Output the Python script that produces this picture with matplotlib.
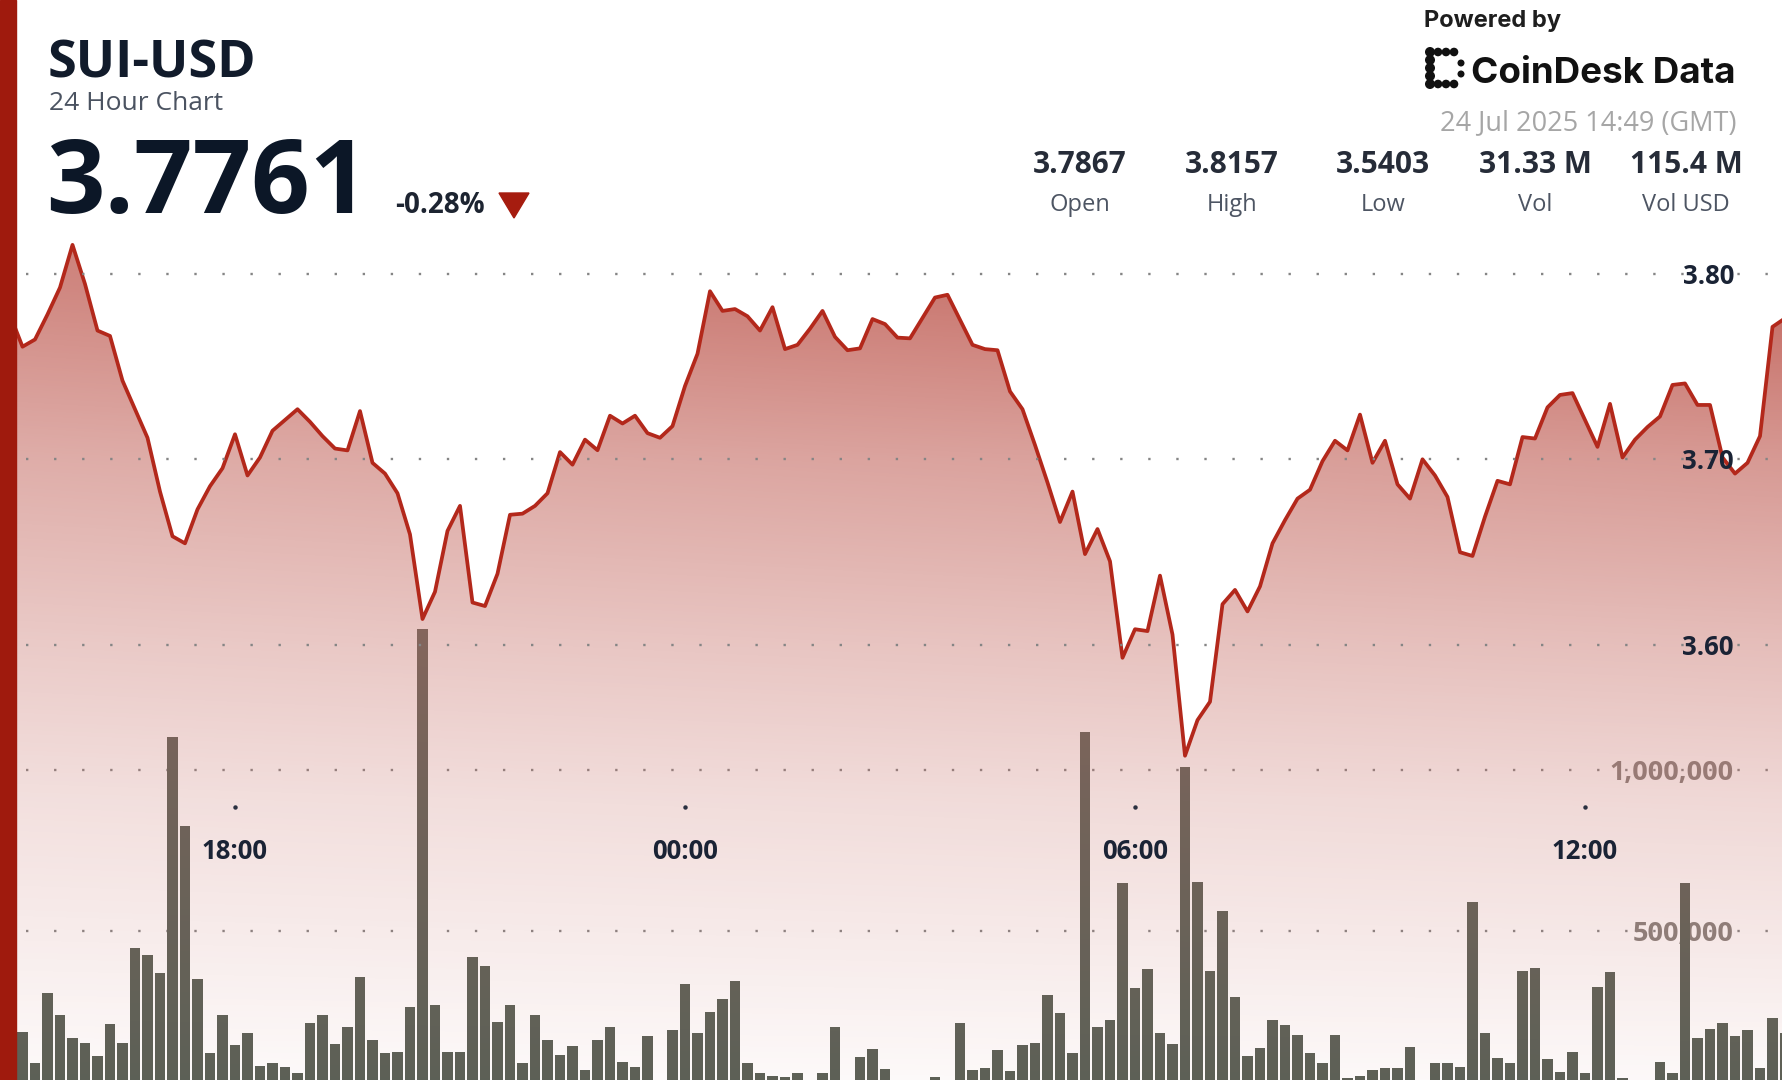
import numpy as np
import matplotlib
matplotlib.use("Agg")
import matplotlib.pyplot as plt
import matplotlib.transforms as mtransforms
from matplotlib.patches import Rectangle, Polygon, Circle

plt.rcParams['font.family'] = ['Open Sans', 'DejaVu Sans']
plt.rcParams['lines.scale_dashes'] = False

W, H = 1783, 1080

# 10 minute bars, time in hours from 00:00 on 24 Jul (first bar 14:50 on 23 Jul)
start_hour = -9 - 10 / 60
step_hour = 10 / 60

price = [
    3.7867, 3.7780, 3.7608, 3.7647, 3.7782, 3.7927, 3.8157, 3.7946, 3.7695, 3.7666,
    3.7425, 3.7271, 3.7117, 3.6827, 3.6586, 3.6548, 3.6731, 3.6856, 3.6953, 3.7136,
    3.6914, 3.7011, 3.7155, 3.7213, 3.7271, 3.7203, 3.7126, 3.7059, 3.7049, 3.7261,
    3.6982, 3.6924, 3.6818, 3.6596, 3.6140, 3.6287, 3.6615, 3.6750, 3.6229, 3.6210,
    3.6384, 3.6702, 3.6708, 3.6750, 3.6818, 3.7040, 3.6972, 3.7107, 3.7050, 3.7236,
    3.7194, 3.7236, 3.7142, 3.7117, 3.7180, 3.7396, 3.7570, 3.7907, 3.7801, 3.7811,
    3.7772, 3.7695, 3.7821, 3.7595, 3.7618, 3.7705, 3.7801, 3.7661, 3.7589, 3.7599,
    3.7757, 3.7730, 3.7657, 3.7653, 3.7763, 3.7873, 3.7888, 3.7753, 3.7618, 3.7595,
    3.7589, 3.7367, 3.7271, 3.7078, 3.6876, 3.6663, 3.6827, 3.6490, 3.6625, 3.6451,
    3.5931, 3.6085, 3.6075, 3.6374, 3.6056, 3.5403, 3.5595, 3.5694, 3.6220, 3.6297,
    3.6181, 3.6316, 3.6548, 3.6673, 3.6789, 3.6837, 3.6991, 3.7101, 3.7049, 3.7242,
    3.6982, 3.7101, 3.6866, 3.6789, 3.7001, 3.6914, 3.6798, 3.6500, 3.6480, 3.6692,
    3.6885, 3.6866, 3.7121, 3.7113, 3.7281, 3.7348, 3.7358, 3.7213, 3.7068, 3.7300,
    3.7011, 3.7107, 3.7175, 3.7232, 3.7402, 3.7410, 3.7294, 3.7294, 3.7011, 3.6924,
    3.6982, 3.7126, 3.7715, 3.7761,
]

volume = [
    150000, 167000, 187000, 91000, 308000, 239000, 167000, 151000, 112000, 210000,
    151000, 446000, 425000, 369000, 1103000, 826000, 350000, 120000, 239000, 146000,
    184000, 81000, 89000, 79000, 58000, 215000, 239000, 148000, 201000, 356000,
    161000, 120000, 125000, 265000, 1437000, 270000, 125000, 125000, 420000, 392000,
    218000, 270000, 89000, 239000, 161000, 115000, 143000, 68000, 161000, 201000,
    94000, 79000, 174000, 30000, 193000, 335000, 184000, 249000, 288000, 345000,
    89000, 58000, 50000, 48000, 58000, 30000, 58000, 203000, 25000, 108000,
    133000, 70000, 20000, 15000, 25000, 48000, 20000, 215000, 68000, 73000,
    130000, 66000, 146000, 153000, 301000, 244000, 120000, 1119000, 201000, 224000,
    650000, 322000, 381000, 182000, 148000, 1010000, 653000, 377000, 563000, 294000,
    112000, 138000, 224000, 208000, 177000, 120000, 91000, 177000, 42000, 50000,
    68000, 73000, 73000, 141000, 20000, 89000, 89000, 79000, 591000, 182000,
    105000, 89000, 377000, 384000, 101000, 63000, 125000, 60000, 327000, 374000,
    42000, 20000, 25000, 94000, 58000, 648000, 167000, 195000, 215000, 174000,
    193000, 73000, 229000, 182000,
]

tick_hours = [-6, 0, 6, 12]
tick_labels = ['18:00', '00:00', '06:00', '12:00']
price_ticks = [3.80, 3.70, 3.60]
volume_ticks = [1000000, 500000]
volume_tick_labels = ['1,000,000', '500,000']

stat_values = ['3.7867', '3.8157', '3.5403', '31.33 M', '115.4 M']
stat_names = ['Open', 'High', 'Low', 'Vol', 'Vol USD']

t = start_hour + step_hour * np.arange(len(price))

x_lo, x_hi = -9.1333, 14.64
p_lo, p_hi = 3.3655, 3.9477
v_lo, v_hi = 37267, 3391315

navy = '#111b2b'
line_red = '#b3281b'
dot_grey = '#858585'
dots = (0, (1.7, 18.5))

fig = plt.figure(figsize=(W / 100, H / 100), dpi=100)
fig.patch.set_facecolor('white')

ax_v = fig.add_axes([0, 0, 1, 1])
ax_p = fig.add_axes([0, 0, 1, 1], sharex=ax_v)
ov = fig.add_axes([0, 0, 1, 1])
for a, z in ((ax_v, 1), (ax_p, 2), (ov, 3)):
    a.set_zorder(z)
    a.patch.set_visible(False)
    a.set_axis_off()

ax_v.set_xlim(x_lo, x_hi)
ax_v.set_ylim(v_lo, v_hi)
ov.set_xlim(0, W)
ov.set_ylim(H, 0)

down = mtransforms.ScaledTranslation(0, -2.5 / 100, fig.dpi_scale_trans)

# volume bars + their grid
vol_lab = mtransforms.blended_transform_factory(ov.transData, ax_v.transData)
for v, lab in zip(volume_ticks, volume_tick_labels):
    ax_v.axhline(v, xmin=26 / W, color=dot_grey, lw=1.7, ls=dots, zorder=1)
    ax_v.text(1734, v, lab, transform=vol_lab + down, ha='right', va='center',
              fontsize=19.5, fontweight='bold', color='#85807c', zorder=1.5)
ax_v.bar(t, volume, width=0.84 * step_hour, color='#596056', zorder=2)

# price area with vertical gradient
fill = ax_p.fill_between(t, price, p_lo, facecolor='none', edgecolor='none')
rows = np.arange(H) + 0.5
alpha_rows = np.interp(rows, [230, 290, 459, 645, 800, 1080],
                       [1.0, 0.93, 0.64, 0.41, 0.245, 0.04])
cols = np.linspace(0, 1, W)
alpha = np.clip(alpha_rows[:, None] * (0.88 + 0.22 * cols[None, :]), 0, 1)
grad = np.zeros((H, W, 4))
grad[..., 0] = 198 / 255
grad[..., 1] = 110 / 255
grad[..., 2] = 102 / 255
grad[..., 3] = alpha
im = ax_p.imshow(grad, extent=[x_lo, x_hi, p_lo, p_hi], origin='upper',
                 aspect='auto', zorder=2, interpolation='bilinear')
im.set_clip_path(fill.get_paths()[0], transform=ax_p.transData)
ax_p.plot(t, price, color=line_red, lw=2.7, zorder=3, solid_joinstyle='round')
ax_p.set_xlim(x_lo, x_hi)
ax_p.set_ylim(p_lo, p_hi)

price_lab = mtransforms.blended_transform_factory(ov.transData, ax_p.transData)
for p in price_ticks:
    ax_p.axhline(p, xmin=26 / W, color=dot_grey, lw=1.7, ls=dots, zorder=4)
    ax_p.text(1734, p, f'{p:.2f}', transform=price_lab + down, ha='right', va='center',
              fontsize=18.5, fontweight='bold', color='#1a2335', zorder=5)

time_lab = mtransforms.blended_transform_factory(ax_p.transData, ov.transData)
for h, lab in zip(tick_hours, tick_labels):
    ax_p.plot([h], [807], 'o', ms=2.2, color='#2a3040', transform=time_lab, zorder=5)
    ax_p.text(h, 859, lab, transform=time_lab, ha='center', va='baseline',
              fontsize=18.5, fontweight='bold', color='#1a2335', zorder=5)

# header
ov.add_patch(Rectangle((0, 0), 16, H, color='#9f1a0d', zorder=10))
ov.text(48, 77, 'SUI-USD', fontsize=37.5, fontweight='bold', color=navy, va='baseline')
ov.text(49, 110, '24 Hour Chart', fontsize=19, color='#4b5361', va='baseline')
ov.text(46, 213, '3.7761', fontsize=74, fontweight='bold', color='#0c1727', va='baseline')
ov.text(395, 213, '-0.28%', fontsize=20, fontweight='bold', color='#1d2431', va='baseline')
ov.add_patch(Polygon([(499, 193), (529, 193), (514, 218)], closed=True, color='#a61c0f'))

ov.text(1424, 27, 'Powered by', fontsize=17, fontweight='bold', color='#1e1e1e',
        va='baseline', family=['Inter', 'Roboto', 'DejaVu Sans'])
for y in (52, 60, 68, 76, 84):
    ov.add_patch(Circle((1430, y), 4.3, color='#111111'))
for x in (1438, 1446, 1454):
    ov.add_patch(Circle((x, 52), 3.6, color='#111111'))
    ov.add_patch(Circle((x, 84), 3.6, color='#111111'))
for y in (63, 74):
    ov.add_patch(Circle((1461, y), 2.8, color='#111111'))
ov.text(1471, 83, 'CoinDesk Data', fontsize=26.5, fontweight='bold', color='#111111',
        va='baseline', family=['Inter', 'Roboto', 'DejaVu Sans'])
ov.text(1737, 130, '24 Jul 2025 14:49 (GMT)', fontsize=19.5, color='#a6a6a6',
        ha='right', va='baseline')

stat_x = [1080, 1232, 1383, 1535, 1686]
for x, v, n in zip(stat_x, stat_values, stat_names):
    ov.text(x, 173, v, ha='center', va='baseline', fontsize=21.5,
            fontweight='bold', color='#262c38')
    ov.text(x, 211, n, ha='center', va='baseline', fontsize=17, color='#4d5563')

fig.savefig('out.png', dpi=100, facecolor='white')
